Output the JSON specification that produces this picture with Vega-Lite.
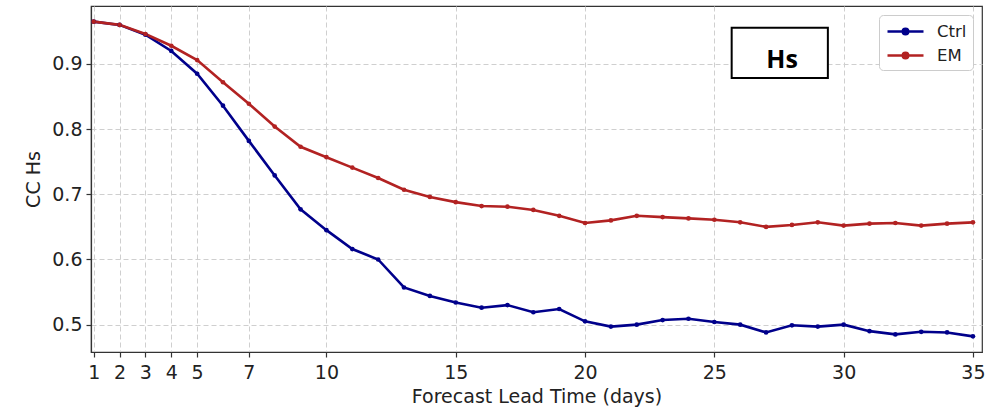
{
  "$schema": "https://vega.github.io/schema/vega-lite/v6.json",
  "width": 891,
  "height": 346,
  "autosize": {"type": "none"},
  "padding": {"left": 91, "top": 6, "right": 20, "bottom": 59},
  "background": "white",
  "config": {
    "view": {"stroke": "#333", "strokeWidth": 1.2},
    "axis": {
      "labelFont": "DejaVu Sans",
      "labelFontSize": 19,
      "labelColor": "#222",
      "titleFont": "DejaVu Sans",
      "titleFontSize": 19,
      "titleFontWeight": "normal",
      "titleColor": "#222",
      "domainColor": "#333",
      "domainWidth": 1.2,
      "tickColor": "#333",
      "tickSize": 5,
      "tickWidth": 1.2,
      "gridColor": "#cfcfcf",
      "gridDash": [5, 3],
      "gridWidth": 1
    },
    "legend": {
      "labelFont": "DejaVu Sans",
      "labelFontSize": 16.5,
      "labelColor": "#222"
    }
  },
  "datasets": {
    "series": [
      {"day": 1, "model": "Ctrl", "cc": 0.965},
      {"day": 2, "model": "Ctrl", "cc": 0.960},
      {"day": 3, "model": "Ctrl", "cc": 0.945},
      {"day": 4, "model": "Ctrl", "cc": 0.920},
      {"day": 5, "model": "Ctrl", "cc": 0.885},
      {"day": 6, "model": "Ctrl", "cc": 0.836},
      {"day": 7, "model": "Ctrl", "cc": 0.782},
      {"day": 8, "model": "Ctrl", "cc": 0.729},
      {"day": 9, "model": "Ctrl", "cc": 0.677},
      {"day": 10, "model": "Ctrl", "cc": 0.645},
      {"day": 11, "model": "Ctrl", "cc": 0.616},
      {"day": 12, "model": "Ctrl", "cc": 0.600},
      {"day": 13, "model": "Ctrl", "cc": 0.557},
      {"day": 14, "model": "Ctrl", "cc": 0.544},
      {"day": 15, "model": "Ctrl", "cc": 0.534},
      {"day": 16, "model": "Ctrl", "cc": 0.526},
      {"day": 17, "model": "Ctrl", "cc": 0.530},
      {"day": 18, "model": "Ctrl", "cc": 0.519},
      {"day": 19, "model": "Ctrl", "cc": 0.524},
      {"day": 20, "model": "Ctrl", "cc": 0.505},
      {"day": 21, "model": "Ctrl", "cc": 0.497},
      {"day": 22, "model": "Ctrl", "cc": 0.500},
      {"day": 23, "model": "Ctrl", "cc": 0.507},
      {"day": 24, "model": "Ctrl", "cc": 0.509},
      {"day": 25, "model": "Ctrl", "cc": 0.504},
      {"day": 26, "model": "Ctrl", "cc": 0.500},
      {"day": 27, "model": "Ctrl", "cc": 0.488},
      {"day": 28, "model": "Ctrl", "cc": 0.499},
      {"day": 29, "model": "Ctrl", "cc": 0.497},
      {"day": 30, "model": "Ctrl", "cc": 0.500},
      {"day": 31, "model": "Ctrl", "cc": 0.490},
      {"day": 32, "model": "Ctrl", "cc": 0.485},
      {"day": 33, "model": "Ctrl", "cc": 0.489},
      {"day": 34, "model": "Ctrl", "cc": 0.488},
      {"day": 35, "model": "Ctrl", "cc": 0.482},
      {"day": 1, "model": "EM", "cc": 0.965},
      {"day": 2, "model": "EM", "cc": 0.960},
      {"day": 3, "model": "EM", "cc": 0.946},
      {"day": 4, "model": "EM", "cc": 0.928},
      {"day": 5, "model": "EM", "cc": 0.906},
      {"day": 6, "model": "EM", "cc": 0.872},
      {"day": 7, "model": "EM", "cc": 0.839},
      {"day": 8, "model": "EM", "cc": 0.804},
      {"day": 9, "model": "EM", "cc": 0.773},
      {"day": 10, "model": "EM", "cc": 0.757},
      {"day": 11, "model": "EM", "cc": 0.741},
      {"day": 12, "model": "EM", "cc": 0.725},
      {"day": 13, "model": "EM", "cc": 0.707},
      {"day": 14, "model": "EM", "cc": 0.696},
      {"day": 15, "model": "EM", "cc": 0.688},
      {"day": 16, "model": "EM", "cc": 0.682},
      {"day": 17, "model": "EM", "cc": 0.681},
      {"day": 18, "model": "EM", "cc": 0.676},
      {"day": 19, "model": "EM", "cc": 0.667},
      {"day": 20, "model": "EM", "cc": 0.656},
      {"day": 21, "model": "EM", "cc": 0.660},
      {"day": 22, "model": "EM", "cc": 0.667},
      {"day": 23, "model": "EM", "cc": 0.665},
      {"day": 24, "model": "EM", "cc": 0.663},
      {"day": 25, "model": "EM", "cc": 0.661},
      {"day": 26, "model": "EM", "cc": 0.657},
      {"day": 27, "model": "EM", "cc": 0.650},
      {"day": 28, "model": "EM", "cc": 0.653},
      {"day": 29, "model": "EM", "cc": 0.657},
      {"day": 30, "model": "EM", "cc": 0.652},
      {"day": 31, "model": "EM", "cc": 0.655},
      {"day": 32, "model": "EM", "cc": 0.656},
      {"day": 33, "model": "EM", "cc": 0.652},
      {"day": 34, "model": "EM", "cc": 0.655},
      {"day": 35, "model": "EM", "cc": 0.657}
    ],
    "label": [
      {"x1": 25.67, "x2": 29.39, "y1": 0.8785, "y2": 0.9557, "xc": 27.62, "yc": 0.8943, "text": "Hs"}
    ]
  },
  "layer": [
    {
      "data": {"name": "series"},
      "mark": {"type": "line", "strokeWidth": 2.6, "point": {"filled": true, "size": 22}},
      "encoding": {
        "x": {
          "field": "day", "type": "quantitative",
          "scale": {"domain": [0.896, 35.35], "nice": false, "zero": false},
          "axis": {
            "values": [1, 2, 3, 4, 5, 7, 10, 15, 20, 25, 30, 35],
            "title": "Forecast Lead Time (days)",
            "labelPadding": 6,
            "titlePadding": 5,
            "labelFlush": false
          }
        },
        "y": {
          "field": "cc", "type": "quantitative",
          "scale": {"domain": [0.458, 0.989], "nice": false, "zero": false},
          "axis": {
            "values": [0.5, 0.6, 0.7, 0.8, 0.9],
            "format": ".1f",
            "title": "CC Hs",
            "labelPadding": 4,
            "titlePadding": 8
          }
        },
        "color": {
          "field": "model", "type": "nominal",
          "scale": {"domain": ["Ctrl", "EM"], "range": ["#00008B", "#B22222"]},
          "legend": {
            "title": null,
            "orient": "top-right",
            "offset": 9,
            "padding": 6,
            "fillColor": "white",
            "strokeColor": "#cccccc",
            "cornerRadius": 4,
            "symbolType": "M-2,0H2M0.3,0A0.3,0.3,0,1,1,-0.3,0A0.3,0.3,0,1,1,0.3,0",
            "symbolSize": 324,
            "symbolOffset": 10,
            "symbolStrokeWidth": 2.6,
            "rowPadding": 5,
            "labelOffset": 21,
            "encode": {
              "symbols": {
                "update": {
                  "fill": {"scale": "color", "field": "value"},
                  "stroke": {"scale": "color", "field": "value"}
                }
              }
            }
          }
        }
      }
    },
    {
      "data": {"name": "label"},
      "mark": {"type": "rect", "fill": "white", "stroke": "black", "strokeWidth": 2},
      "encoding": {
        "x": {"field": "x1", "type": "quantitative"},
        "x2": {"field": "x2"},
        "y": {"field": "y1", "type": "quantitative"},
        "y2": {"field": "y2"}
      }
    },
    {
      "data": {"name": "label"},
      "mark": {"type": "text", "font": "Open Sans", "fontWeight": "bold", "fontSize": 25, "color": "black", "baseline": "alphabetic", "align": "center"},
      "encoding": {
        "x": {"field": "xc", "type": "quantitative"},
        "y": {"field": "yc", "type": "quantitative"},
        "text": {"field": "text"}
      }
    }
  ]
}
